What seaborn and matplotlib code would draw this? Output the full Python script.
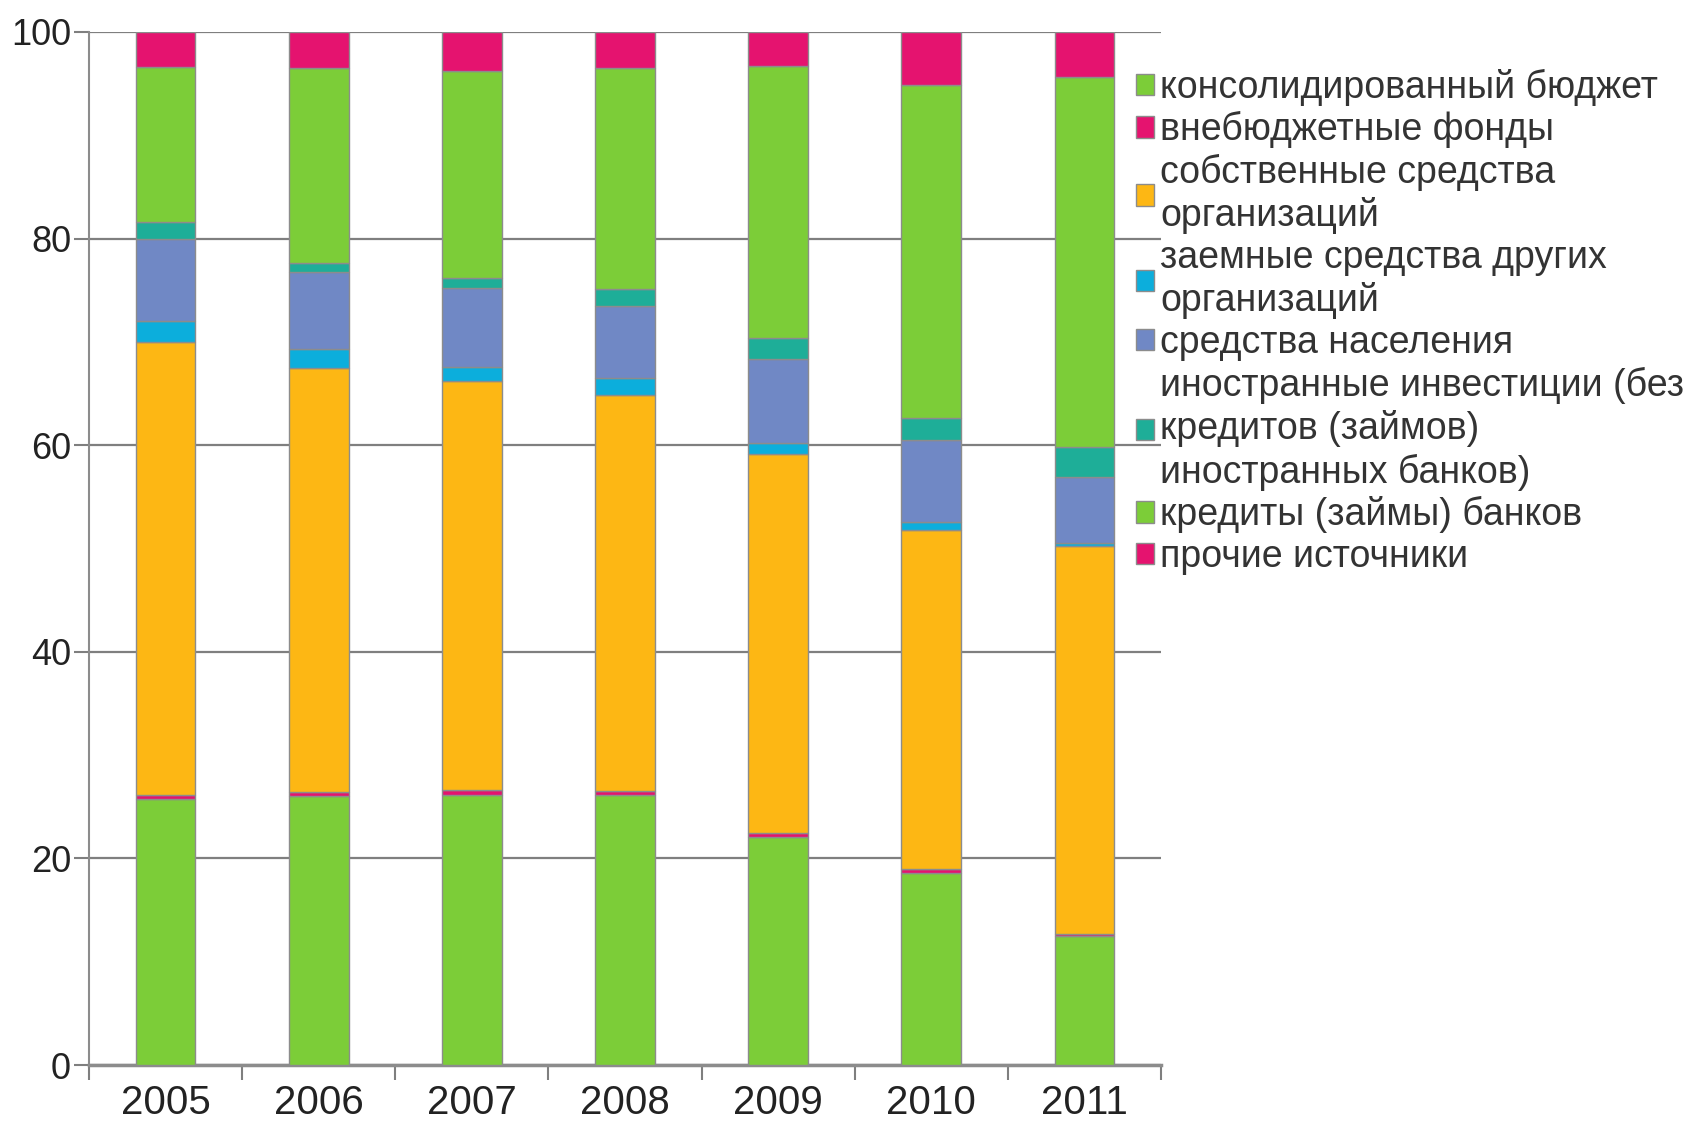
import numpy as np
import matplotlib
matplotlib.use("Agg")
import matplotlib.pyplot as plt
import seaborn as sns

# Structure of investment by source of financing, % (stacked bottom -> top)
years = ["2005", "2006", "2007", "2008", "2009", "2010", "2011"]

budget = [25.8, 26.0, 26.1, 26.1, 22.1, 18.6, 12.5]
offbudget_funds = [0.3, 0.4, 0.5, 0.4, 0.4, 0.4, 0.2]
own_funds = [43.9, 41.1, 39.6, 38.4, 36.6, 32.8, 37.5]
borrowed_other = [2.0, 1.8, 1.4, 1.6, 1.1, 0.8, 0.3]
population = [8.0, 7.5, 7.6, 7.0, 8.1, 7.9, 6.4]
foreign = [1.6, 0.8, 1.0, 1.6, 2.1, 2.1, 2.9]
bank_credits = [15.0, 18.9, 20.0, 21.4, 26.3, 32.3, 35.8]
other = [3.4, 3.5, 3.8, 3.5, 3.3, 5.1, 4.4]

labels = [
    "консолидированный бюджет",
    "внебюджетные фонды",
    "собственные средства\nорганизаций",
    "заемные средства других\nорганизаций",
    "средства населения",
    "иностранные инвестиции (без\nкредитов (займов)\nиностранных банков)",
    "кредиты (займы) банков",
    "прочие источники",
]
colors = ["#7ccd38", "#e5136f", "#fdb714", "#0caedc",
          "#7088c5", "#1eae98", "#7ccd38", "#e5136f"]
series = [budget, offbudget_funds, own_funds, borrowed_other,
          population, foreign, bank_credits, other]

sns.set_theme(style="white")
plt.rcParams["font.family"] = ["Liberation Sans", "DejaVu Sans"]

fig = plt.figure(figsize=(16.9, 11.25), dpi=100)
ax = fig.add_axes([0.0527, 0.0533, 0.6343, 0.9183])

bottom = np.zeros(len(years))
for vals, lab, col in zip(series, labels, colors):
    sns.barplot(x=years, y=vals, bottom=bottom.copy(), color=col, saturation=1,
                width=0.39, edgecolor="#8c8c8c", linewidth=1.0, label=lab,
                legend=False, ax=ax, zorder=3)
    bottom += np.array(vals)

ax.set_xlim(-0.5, 6.5)
ax.set_ylim(0, 100)
ax.set_yticks(range(0, 101, 20))
ax.set_xlabel("")
ax.set_ylabel("")

ax.set_axisbelow(True)
ax.yaxis.grid(True, color="#7f7f7f", linewidth=1.6)
ax.xaxis.grid(False)

for s in ["top", "right"]:
    ax.spines[s].set_visible(False)
ax.spines["left"].set_color("#8c8c8c")
ax.spines["left"].set_linewidth(1.5)
ax.spines["bottom"].set_color("#8c8c8c")
ax.spines["bottom"].set_linewidth(2.5)

ax.tick_params(axis="y", left=True, length=11, width=1.5, color="#7f7f7f",
               labelsize=26, labelcolor="#222222", pad=2)
ax.set_xticks(np.arange(-0.5, 7, 1), minor=True)
ax.tick_params(axis="x", which="major", length=0, labelsize=29,
               labelcolor="#222222", pad=14)
ax.tick_params(axis="x", which="minor", bottom=True, length=11, width=1.5,
               color="#7f7f7f")

handles, labs = ax.get_legend_handles_labels()
leg = fig.legend(handles, labs, loc="upper left", bbox_to_anchor=(0.672, 0.939),
                 frameon=False, fontsize=27, handlelength=0.5, handleheight=0.5,
                 handletextpad=0.15, labelspacing=0.15, borderpad=0,
                 borderaxespad=0)
for t in leg.get_texts():
    t.set_color("#333333")
    t.set_linespacing(1.22)

fig.savefig("out.png", dpi=100, facecolor="white")
